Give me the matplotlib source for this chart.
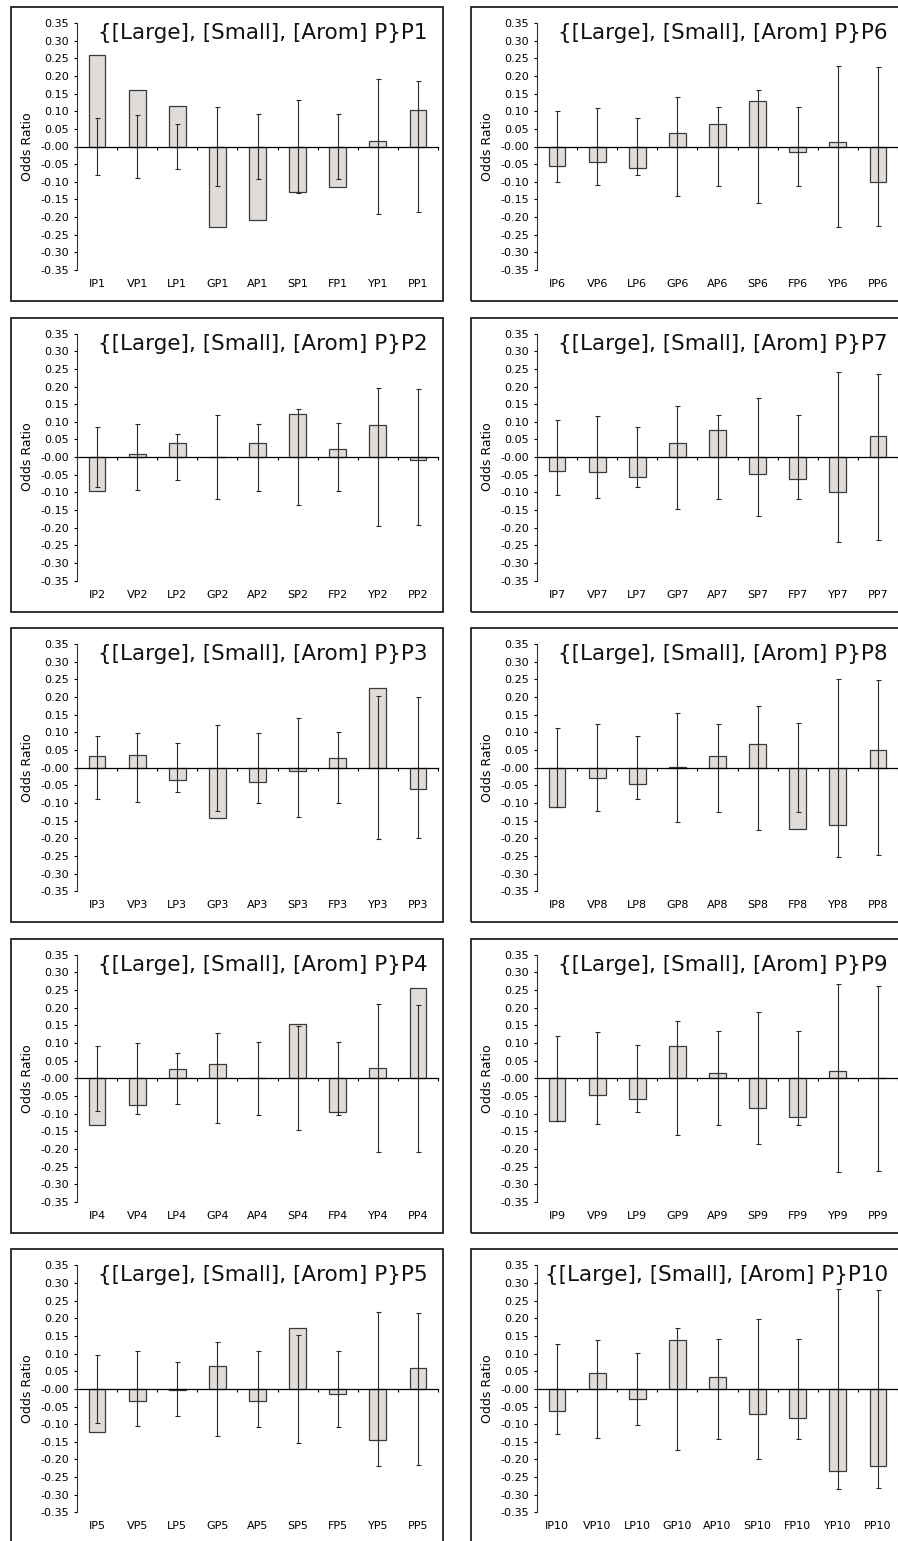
import numpy as np
import matplotlib
matplotlib.use("Agg")
import matplotlib.pyplot as plt
from matplotlib.patches import Rectangle
from matplotlib.ticker import FormatStrFormatter, FixedLocator

plt.rcParams['font.family'] = ['DejaVu Sans']
plt.rcParams['axes.unicode_minus'] = False

residues = ['I', 'V', 'L', 'G', 'A', 'S', 'F', 'Y', 'P']

# odds ratio (bar) and interval half-width (error bar around zero) per position
or_p1 = [0.258, 0.161, 0.115, -0.228, -0.208, -0.130, -0.115, 0.015, 0.103]
ci_p1 = [0.082, 0.090, 0.064, 0.113, 0.092, 0.132, 0.093, 0.190, 0.186]
or_p2 = [-0.095, 0.008, 0.040, 0.000, 0.040, 0.122, 0.023, 0.092, -0.007]
ci_p2 = [0.085, 0.093, 0.066, 0.118, 0.095, 0.136, 0.096, 0.195, 0.192]
or_p3 = [0.034, 0.037, -0.035, -0.142, -0.040, -0.010, 0.027, 0.226, -0.060]
ci_p3 = [0.089, 0.098, 0.070, 0.122, 0.099, 0.141, 0.100, 0.202, 0.200]
or_p4 = [-0.133, -0.075, 0.027, 0.040, 0.000, 0.155, -0.095, 0.030, 0.256]
ci_p4 = [0.092, 0.100, 0.072, 0.127, 0.103, 0.147, 0.104, 0.210, 0.208]
or_p5 = [-0.123, -0.035, -0.002, 0.066, -0.035, 0.173, -0.015, -0.145, 0.060]
ci_p5 = [0.096, 0.106, 0.076, 0.133, 0.108, 0.153, 0.108, 0.218, 0.216]
or_p6 = [-0.056, -0.045, -0.060, 0.037, 0.065, 0.128, -0.017, 0.013, -0.100]
ci_p6 = [0.100, 0.110, 0.080, 0.140, 0.113, 0.160, 0.113, 0.228, 0.226]
or_p7 = [-0.038, -0.042, -0.055, 0.040, 0.078, -0.047, -0.063, -0.100, 0.060]
ci_p7 = [0.106, 0.116, 0.084, 0.146, 0.118, 0.168, 0.120, 0.240, 0.236]
or_p8 = [-0.112, -0.028, -0.047, 0.002, 0.032, 0.068, -0.173, -0.162, 0.049]
ci_p8 = [0.112, 0.123, 0.089, 0.154, 0.125, 0.176, 0.126, 0.252, 0.248]
or_p9 = [-0.120, -0.047, -0.060, 0.092, 0.015, -0.085, -0.110, 0.022, 0.001]
ci_p9 = [0.120, 0.130, 0.095, 0.162, 0.133, 0.187, 0.133, 0.266, 0.262]
or_p10 = [-0.063, 0.044, -0.030, 0.140, 0.033, -0.072, -0.082, -0.233, -0.218]
ci_p10 = [0.127, 0.138, 0.101, 0.173, 0.141, 0.199, 0.142, 0.283, 0.280]

odds = [or_p1, or_p2, or_p3, or_p4, or_p5, or_p6, or_p7, or_p8, or_p9, or_p10]
cis = [ci_p1, ci_p2, ci_p3, ci_p4, ci_p5, ci_p6, ci_p7, ci_p8, ci_p9, ci_p10]

W, H = 898, 1541
fig = plt.figure(figsize=(W / 100, H / 100), dpi=100)
fig.patch.set_facecolor('white')

bar_color = '#e0dcd9'
yticks = np.round(np.arange(-0.35, 0.351, 0.05), 2)

for k in range(10):
    col = k // 5
    row = k % 5
    p = k + 1
    xoff = 460 * col
    yoff = 310.6 * row

    # outer frame box
    fx, fy, fw, fh = 11 + xoff, 7 + yoff, 432, 294
    fig.add_artist(Rectangle((fx / W, 1 - (fy + fh) / H), fw / W, fh / H,
                             transform=fig.transFigure, fill=False,
                             edgecolor='#222222', linewidth=1.3))

    ax_left, ax_top, ax_w, ax_h = 77 + xoff, 23 + yoff, 361, 247
    ax = fig.add_axes([ax_left / W, 1 - (ax_top + ax_h) / H, ax_w / W, ax_h / H])
    ax.patch.set_alpha(0)

    x = np.arange(len(residues))
    ax.bar(x, odds[k], width=0.42, color=bar_color, edgecolor='#3a3a3a',
           linewidth=0.9, zorder=2)
    ax.errorbar(x, np.zeros(len(x)), yerr=cis[k], fmt='none', ecolor='#2a2a2a',
                elinewidth=0.8, capsize=1.8, capthick=0.8, zorder=3)

    ax.set_xlim(-0.5, 8.5)
    ax.set_ylim(-0.35, 0.35)

    ax.spines['right'].set_visible(False)
    ax.spines['bottom'].set_visible(False)
    ax.spines['top'].set_position(('data', 0))
    ax.spines['top'].set_linewidth(0.9)
    ax.spines['top'].set_zorder(4)
    ax.spines['left'].set_linewidth(0.8)
    ax.spines['left'].set_color('#333333')

    ax.set_xticks(x)
    ax.set_xticklabels([f'{r}P{p}' for r in residues], fontsize=8)
    ax.xaxis.set_minor_locator(FixedLocator(np.arange(0.5, 9.0, 1.0)))
    ax.tick_params(axis='x', which='major', bottom=True, top=False, length=0,
                   pad=6.5, labelbottom=True, labeltop=False)
    ax.tick_params(axis='x', which='minor', bottom=False, top=True,
                   direction='in', length=2.5, width=0.8)

    ax.set_yticks(yticks)
    ax.yaxis.set_major_formatter(FormatStrFormatter('%.2f'))
    ax.tick_params(axis='y', which='major', direction='out', length=2.5,
                   width=0.8, pad=3, labelsize=8)

    ax.set_ylabel('Odds Ratio', fontsize=9)
    ax.yaxis.set_label_coords(-0.12, 0.5)

    ax.text(1 - 10 / ax_w, 1 - 16 / ax_h, '{[Large], [Small], [Arom] P}' + f'P{p}',
            transform=ax.transAxes, ha='right', va='baseline', fontsize=15.5,
            color='#111111', zorder=5)

fig.savefig('out.png', dpi=100)
